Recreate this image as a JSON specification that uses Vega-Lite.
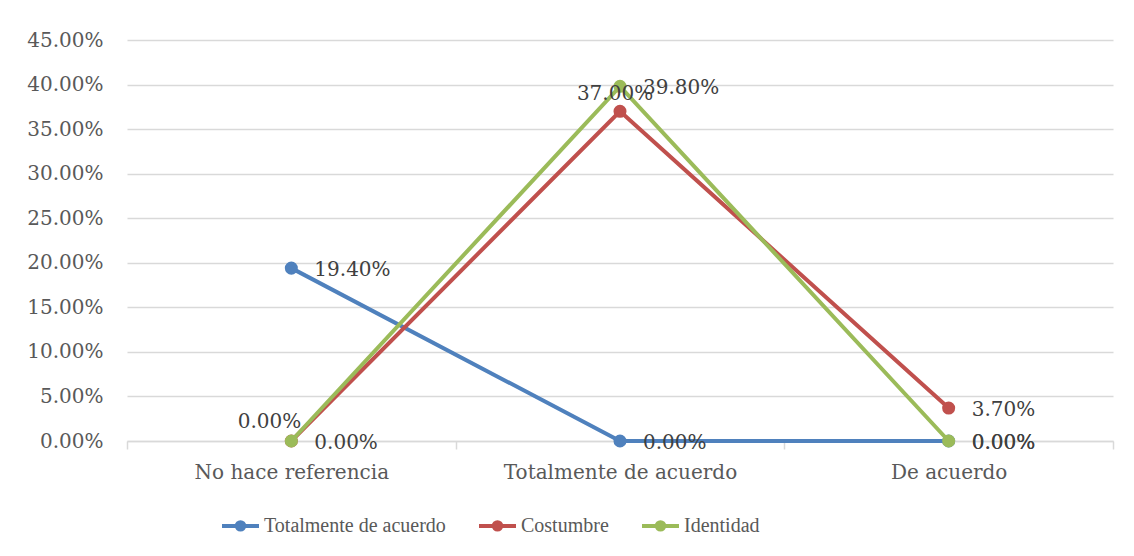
{
  "$schema": "https://vega.github.io/schema/vega-lite/v6.json",
  "autosize": "none",
  "width": 986,
  "height": 401,
  "padding": {"left": 127, "top": 40, "right": 21, "bottom": 115},
  "background": "white",
  "config": {
    "view": {"stroke": null},
    "font": "DejaVu Serif"
  },
  "data": {
    "values": [
      {"cat": "No hace referencia", "series": "Totalmente de acuerdo", "v": 0.194},
      {"cat": "Totalmente de acuerdo", "series": "Totalmente de acuerdo", "v": 0.0},
      {"cat": "De acuerdo", "series": "Totalmente de acuerdo", "v": 0.0},
      {"cat": "No hace referencia", "series": "Costumbre", "v": 0.0},
      {"cat": "Totalmente de acuerdo", "series": "Costumbre", "v": 0.37},
      {"cat": "De acuerdo", "series": "Costumbre", "v": 0.037},
      {"cat": "No hace referencia", "series": "Identidad", "v": 0.0},
      {"cat": "Totalmente de acuerdo", "series": "Identidad", "v": 0.398},
      {"cat": "De acuerdo", "series": "Identidad", "v": 0.0}
    ]
  },
  "encoding": {
    "x": {
      "field": "cat", "type": "nominal",
      "sort": ["No hace referencia", "Totalmente de acuerdo", "De acuerdo"],
      "scale": {"type": "band", "paddingInner": 0, "paddingOuter": 0},
      "axis": {
        "title": null, "labelAngle": 0, "tickBand": "extent", "labelLimit": 0,
        "domainColor": "#D9D9D9", "domainWidth": 1.5,
        "tickColor": "#D9D9D9", "tickWidth": 1.5, "tickSize": 8,
        "labelPadding": 13, "labelFont": "DejaVu Serif", "labelFontSize": 20,
        "labelColor": "#595959", "grid": false
      }
    },
    "y": {
      "field": "v", "type": "quantitative",
      "scale": {"domain": [0, 0.45], "nice": false},
      "axis": {
        "title": null, "format": ".2%",
        "values": [0, 0.05, 0.1, 0.15, 0.2, 0.25, 0.3, 0.35, 0.4, 0.45],
        "domain": false, "ticks": false, "labelPadding": 24, "labelLimit": 0,
        "labelFont": "DejaVu Serif", "labelFontSize": 20, "labelColor": "#595959",
        "gridColor": "#D9D9D9", "gridWidth": 1.5
      }
    },
    "color": {
      "field": "series", "type": "nominal",
      "scale": {
        "domain": ["Totalmente de acuerdo", "Costumbre", "Identidad"],
        "range": ["#4F81BD", "#C0504D", "#9BBB59"]
      },
      "legend": {
        "title": null, "orient": "none", "direction": "horizontal",
        "legendX": 93, "legendY": 465,
        "symbolType": "M-1,0H1M0.2,0A0.2,0.2,0,1,1,-0.2,0A0.2,0.2,0,1,1,0.2,0",
        "symbolSize": 1369, "symbolStrokeWidth": 4,
        "labelFont": "Liberation Serif", "labelFontSize": 20, "labelColor": "#595959",
        "labelOffset": 3, "columnPadding": 25, "labelLimit": 0,
        "encode": {
          "symbols": {"update": {"fill": {"scale": "color", "field": "value"}, "stroke": {"scale": "color", "field": "value"}, "opacity": {"value": 1}}}
        }
      }
    }
  },
  "layer": [
    {
      "transform": [{"filter": "datum.series === 'Totalmente de acuerdo'"}],
      "mark": {"type": "line", "strokeWidth": 4, "point": {"filled": true, "size": 170}}
    },
    {
      "transform": [{"filter": "datum.series === 'Costumbre'"}],
      "mark": {"type": "line", "strokeWidth": 4, "point": {"filled": true, "size": 170}}
    },
    {
      "transform": [{"filter": "datum.series === 'Identidad'"}],
      "mark": {"type": "line", "strokeWidth": 4, "point": {"filled": true, "size": 170}}
    },
    {
      "transform": [{"filter": "!(datum.series === 'Costumbre' && datum.cat !== 'De acuerdo')"}],
      "mark": {"type": "text", "align": "left", "baseline": "middle", "dx": 23, "dy": 2, "fontSize": 20, "font": "DejaVu Serif", "color": "#404040"},
      "encoding": {"text": {"field": "v", "type": "quantitative", "format": ".2%"}, "color": {"value": "#404040"}}
    },
    {
      "transform": [{"filter": "datum.series === 'Costumbre' && datum.cat === 'No hace referencia'"}],
      "mark": {"type": "text", "align": "right", "baseline": "middle", "dx": 10, "dy": -19, "fontSize": 20, "font": "DejaVu Serif", "color": "#404040"},
      "encoding": {"text": {"field": "v", "type": "quantitative", "format": ".2%"}, "color": {"value": "#404040"}}
    },
    {
      "transform": [{"filter": "datum.series === 'Costumbre' && datum.cat === 'Totalmente de acuerdo'"}],
      "mark": {"type": "text", "align": "center", "baseline": "middle", "dx": -5, "dy": -17, "fontSize": 20, "font": "DejaVu Serif", "color": "#404040"},
      "encoding": {"text": {"field": "v", "type": "quantitative", "format": ".2%"}, "color": {"value": "#404040"}}
    }
  ]
}
